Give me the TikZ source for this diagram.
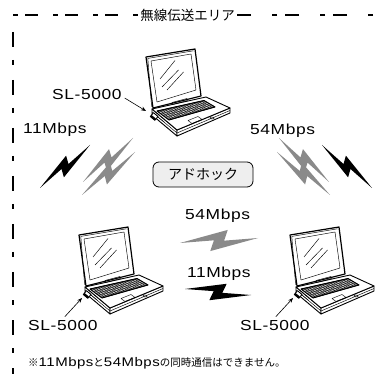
\documentclass[tikz,border=0pt]{standalone}
\usepackage{fontspec}
\newfontfamily\jpfont{Noto Sans CJK JP}
\newfontfamily\latfont[FakeStretch=1.2,LetterSpace=4]{Liberation Sans}
\usetikzlibrary{calc,arrows.meta}

\definecolor{boltgrey}{HTML}{8A8A8A}
\definecolor{boxgrey}{HTML}{EEEEEE}

% Zig-zag lightning bolt between two tips; #4 is the signed notch height
\newcommand\zbolt[4]{%
  \pgfmathsetmacro\zbh{#4}%
  \pgfmathsetmacro\zbhn{-(#4)}%
  \pgfmathsetmacro\zbs{0.05*(#4)}%
  \pgfmathsetmacro\zbsn{-0.05*(#4)}%
  \fill[#3] (#1)
    -- ($(#1)!0.62!(#2)!\zbh pt!90:(#2)$)
    -- ($(#1)!0.565!(#2)!\zbsn pt!90:(#2)$)
    -- (#2)
    -- ($(#1)!0.38!(#2)!\zbhn pt!90:(#2)$)
    -- ($(#1)!0.435!(#2)!\zbs pt!90:(#2)$)
    -- cycle;}

\newcommand\notelat[1]{{\latfont\fontsize{12.5}{14}\selectfont #1}}

\tikzset{
  lapedge/.style={line width=0.9pt, line join=round},
  lapfine/.style={line width=0.45pt, line join=round},
  frameline/.style={line width=1.1pt},
  lbl/.style={font=\latfont\fontsize{14.5}{16}\selectfont, inner sep=0pt},
  jptext/.style={font=\jpfont\fontsize{13.5}{15}\selectfont, inner sep=0pt},
  notetext/.style={font=\jpfont\fontsize{10.5}{14}\selectfont, inner sep=0pt},
  adhocbox/.style={draw, line width=0.8pt, fill=boxgrey, rounded corners=6pt,
    minimum width=100pt, minimum height=25pt,
    font=\jpfont\fontsize{14}{16}\selectfont},
  cardarrow/.style={-{Stealth[length=5pt,width=4pt]}, line width=0.6pt},
  laptop/.pic={
    % base: left side and front faces
    \filldraw[lapedge, fill=white] (6,52) -- (31,73) -- (31,79) -- (6,58) -- cycle;
    \filldraw[lapedge, fill=white] (31,73) -- (84,51) -- (84,56) -- (31,79) -- cycle;
    \draw[lapfine] (6,55) -- (31,76) -- (84,53.5);
    \draw[lapfine] (12,60) -- (18,65);
    % base deck
    \filldraw[lapedge, fill=white] (6,52) -- (60,40) -- (84,51) -- (31,73) -- cycle;
    % keyboard
    \coordinate (kbA) at (11,54);
    \coordinate (kbB) at (58,43.5);
    \coordinate (kbC) at (69,50);
    \coordinate (kbD) at (23,63);
    \filldraw[lapfine, fill=black!55] (kbA) -- (kbB) -- (kbC) -- (kbD) -- cycle;
    \foreach \r in {1,...,4}
      \draw[lapfine, white] ($(kbA)!\r/5!(kbD)$) -- ($(kbB)!\r/5!(kbC)$);
    \foreach \c in {1,...,17}
      \draw[lapfine] ($(kbA)!\c/18!(kbB)$) -- ($(kbD)!\c/18!(kbC)$);
    \draw[lapedge] (kbA) -- (kbB) -- (kbC) -- (kbD) -- cycle;
    % touchpad and front button
    \draw[lapfine] (42,63.5) -- (52,59.5) -- (56,62.5) -- (46,66.5) -- cycle;
    \draw[lapfine] (66,61) ellipse [x radius=2.2pt, y radius=1pt];
    % lid
    \filldraw[lapedge, fill=white, line width=1.2pt] (0,0) -- (49,-8) -- (55,39) -- (7,51) -- cycle;
    \draw[lapfine] (1.8,1.4) -- (47.5,-6.2);
    \draw[lapfine] (1.8,1.4) -- (5.6,49.6);
    \draw[lapfine] (5,4) -- (45,-3) -- (50,33) -- (11,45) -- cycle;
    % screen reflections
    \draw[lapfine] (14,22) -- (29,3.5);
    \draw[lapfine] (16,30) -- (32.5,13);
    \draw[lapfine] (21,33) -- (37.5,15);
    % hinge bar
    \draw[lapfine] (26,45.5) -- (41,41.5) -- (41.5,43.5) -- (26.5,47.5) -- cycle;
    % wireless card in the side slot
    \filldraw[lapedge, fill=white] (7.5,55.7) -- (12,59.5) -- (8.8,63.3) -- (4.3,59.5) -- cycle;
    \fill (4.3,59.5) -- (5.6,58) -- (10.1,61.8) -- (8.8,63.3) -- cycle;
  }
}

\begin{document}
\begin{tikzpicture}[x=1pt,y=-1pt]
\useasboundingbox (0,0) rectangle (391,374);

% wireless area frame
\node[jptext, fill=white, inner xsep=1pt] (area) at (187.5,15) {無線伝送エリア};
\coordinate (frameTL) at (13,15);
\coordinate (frameTR) at (373,15);
\coordinate (frameL) at (13,32);
\coordinate (frameBL) at (13,374);
\draw[frameline, dash pattern=on 5pt off 7pt on 13pt off 15pt] (frameTL) -- (area.west);
\draw[frameline, dash pattern=on 5pt off 21pt on 14pt off 8pt] (frameTR) -- (area.east);
\draw[frameline, dash pattern=on 15pt off 13pt on 5pt off 15pt] (frameL) -- (frameBL);

% three notebook PCs
\pic (lapT) at (146,57) {laptop};
\pic (lapL) at (79,235) {laptop};
\pic (lapR) at (290,235) {laptop};

% card labels
\node[lbl, anchor=base west] (slT) at (52,100) {SL-5000};
\node[lbl, anchor=base west] (slL) at (28,330) {SL-5000};
\node[lbl, anchor=base west] (slR) at (240,330) {SL-5000};
\coordinate (cardT) at (146,111);
\coordinate (cardL) at (82,298);
\coordinate (cardR) at (293,298);
\draw[cardarrow] ([shift={(3pt,-3pt)}]slT.east) -- (cardT);
\draw[cardarrow] ([shift={(2pt,3pt)}]slL.north) -- (cardL);
\draw[cardarrow] ([shift={(1pt,3pt)}]slR.north) -- (cardR);

% link rates
\node[lbl, anchor=base west] (r11a) at (23,134) {11Mbps};
\node[lbl, anchor=base west] (r54a) at (250,135) {54Mbps};
\node[lbl, anchor=base west] (r54b) at (185,220) {54Mbps};
\node[lbl, anchor=base west] (r11b) at (187,277) {11Mbps};

\node[adhocbox] (adhoc) at (203,174.5) {アドホック};

% radio links
\coordinate (bkLa) at (90,145);  \coordinate (bkLb) at (40,188);
\coordinate (gyLa) at (133,138); \coordinate (gyLb) at (83,182);
\coordinate (gyLc) at (135,152); \coordinate (gyLd) at (82,195);
\coordinate (bkRa) at (322,145); \coordinate (bkRb) at (372,188);
\coordinate (gyRa) at (279,138); \coordinate (gyRb) at (329,182);
\coordinate (gyRc) at (277,152); \coordinate (gyRd) at (330,195);
\coordinate (gyMa) at (180,243); \coordinate (gyMb) at (258,238);
\coordinate (bkMa) at (185,289); \coordinate (bkMb) at (251,295);
\zbolt{bkLa}{bkLb}{black}{7.5}
\zbolt{gyLa}{gyLb}{boltgrey}{7.5}
\zbolt{gyLc}{gyLd}{boltgrey}{7.5}
\zbolt{bkRa}{bkRb}{black}{-7.5}
\zbolt{gyRa}{gyRb}{boltgrey}{-7.5}
\zbolt{gyRc}{gyRd}{boltgrey}{-7.5}
\zbolt{gyMa}{gyMb}{boltgrey}{10}
\zbolt{bkMa}{bkMb}{black}{9}

\node[notetext, anchor=base west] (note) at (28,366)
  {※\notelat{11Mbps}と\notelat{54Mbps}の同時通信はできません。};
\end{tikzpicture}
\end{document}
